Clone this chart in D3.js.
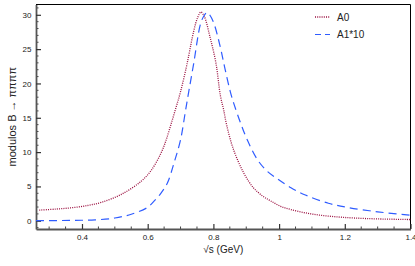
<!DOCTYPE html>
<html>
<head>
<meta charset="utf-8">
<script src="https://cdn.jsdelivr.net/npm/d3@7"></script>
<style>
  body { margin: 0; background: #fff; }
  svg { display: block; font-family: "Liberation Sans", Arial, sans-serif; }
</style>
</head>
<body>
<div id="chart"></div>
<script>
// Chart size and plot frame
const width = 415;
const height = 266;
const margin = { top: 4.5, right: 4.5, bottom: 37, left: 36 };

// Data
const a0X = [0.27, 0.32, 0.37, 0.42, 0.46, 0.52, 0.58, 0.61, 0.64, 0.655, 0.67, 0.685, 0.70, 0.72, 0.74, 0.752, 0.762, 0.772, 0.79, 0.808, 0.821, 0.831, 0.841, 0.861, 0.892, 0.922, 0.95, 0.974, 1.005, 1.035, 1.08, 1.127, 1.18, 1.228, 1.30, 1.40];
const a0Y = [1.55, 1.7, 1.9, 2.25, 2.7, 3.85, 5.75, 7.3, 9.8, 11.6, 13.9, 16.3, 18.8, 22.9, 27.6, 29.6, 30.4, 29.8, 26.7, 22.9, 18.3, 16.2, 13.8, 10.4, 7.0, 4.8, 3.6, 2.9, 2.1, 1.65, 1.15, 0.8, 0.55, 0.4, 0.27, 0.18];
const a1X = [0.26, 0.32, 0.38, 0.44, 0.50, 0.55, 0.598, 0.62, 0.64, 0.66, 0.68, 0.70, 0.715, 0.725, 0.74, 0.761, 0.772, 0.781, 0.79, 0.802, 0.821, 0.835, 0.852, 0.862, 0.883, 0.903, 0.934, 0.964, 0.995, 1.036, 1.08, 1.15, 1.208, 1.30, 1.40];
const a1Y = [0.02, 0.03, 0.06, 0.13, 0.4, 0.95, 1.9, 2.9, 4.0, 5.5, 8.4, 11.8, 16.0, 18.8, 22.9, 28.7, 29.9, 30.35, 29.9, 28.7, 25.3, 22.2, 18.7, 17.1, 14.2, 11.8, 8.9, 7.2, 6.1, 4.8, 3.75, 2.55, 1.95, 1.3, 0.82];
const xTicks = [0.4, 0.6, 0.8, 1, 1.2, 1.4];
const yTicks = [0, 5, 10, 15, 20, 25, 30];
const seriesNames = ["A0", "A1*10"];

const red = "#9b1040";
const blue = "#2f5cff";

const svg = d3.select("#chart").append("svg")
    .attr("width", width)
    .attr("height", height);

const x = d3.scaleLinear()
    .domain([0.26, 1.4])
    .range([margin.left, width - margin.right]);
const y = d3.scaleLinear()
    .domain([-1.2, 31.5])
    .range([height - margin.bottom, margin.top]);

const x0 = margin.left, x1 = width - margin.right;
const y0 = height - margin.bottom, y1 = margin.top;

// Frame: top and right black
svg.append("path")
    .attr("d", `M${x0},${y1}H${x1}V${y0}`)
    .attr("fill", "none")
    .attr("stroke", "#000")
    .attr("stroke-width", 1);

// Minor ticks (inward)
const xMinor = d3.range(0.3, 1.401, 0.05).filter(v => !xTicks.some(t => Math.abs(t - v) < 1e-6));
const yMinor = d3.range(-1, 31.01, 1).filter(v => v % 5 !== 0);

svg.append("g").selectAll("line")
    .data(xMinor)
    .join("line")
    .attr("x1", d => x(d)).attr("x2", d => x(d))
    .attr("y1", y0).attr("y2", y0 - 2.5)
    .attr("stroke", "#444").attr("stroke-width", 1);

svg.append("g").selectAll("line")
    .data(yMinor)
    .join("line")
    .attr("x1", x0).attr("x2", x0 + 2.5)
    .attr("y1", d => y(d)).attr("y2", d => y(d))
    .attr("stroke", "#444").attr("stroke-width", 1);

// Major axes
const xAxis = svg.append("g")
    .attr("transform", `translate(0,${y0})`)
    .call(d3.axisBottom(x).tickValues(xTicks).tickSizeInner(-5).tickSizeOuter(0).tickPadding(5).tickFormat(d3.format("")));
const yAxis = svg.append("g")
    .attr("transform", `translate(${x0},0)`)
    .call(d3.axisLeft(y).tickValues(yTicks).tickSizeInner(-5).tickSizeOuter(0).tickPadding(4.5));

[xAxis, yAxis].forEach(g => {
    g.select(".domain").attr("stroke", "#555").attr("stroke-width", 1.8);
    g.selectAll(".tick line").attr("stroke", "#333").attr("stroke-width", 1.2);
    g.selectAll(".tick text")
        .attr("fill", "#222")
        .style("font-size", "8px")
        .style("font-family", "'Liberation Sans', Arial, sans-serif");
});

// Curves
const line = d3.line()
    .x(d => x(d[0]))
    .y(d => y(d[1]))
    .curve(d3.curveCatmullRom.alpha(0.5));

const a0 = a0X.map((v, i) => [v, a0Y[i]]);
const a1 = a1X.map((v, i) => [v, a1Y[i]]);

svg.append("path")
    .datum(a0)
    .attr("d", line)
    .attr("fill", "none")
    .attr("stroke", red)
    .attr("stroke-width", 1.3)
    .attr("stroke-dasharray", "1,1.2");

svg.append("path")
    .datum(a1)
    .attr("d", line)
    .attr("fill", "none")
    .attr("stroke", blue)
    .attr("stroke-width", 1.2)
    .attr("stroke-dasharray", "8,5");

// Legend
const legend = svg.append("g").attr("class", "legend");
const legendItems = [
    { name: seriesNames[0], color: red, dash: "1,1.2", w: 1.3, yy: 17 },
    { name: seriesNames[1], color: blue, dash: "6,4", w: 1.2, yy: 34.5 }
];
legendItems.forEach(item => {
    legend.append("line")
        .attr("x1", 315).attr("x2", 330)
        .attr("y1", item.yy).attr("y2", item.yy)
        .attr("stroke", item.color)
        .attr("stroke-width", item.w)
        .attr("stroke-dasharray", item.dash);
    legend.append("text")
        .attr("x", 337)
        .attr("y", item.yy + 3.5)
        .attr("fill", "#222")
        .style("font-size", "10px")
        .text(item.name);
});

// Axis titles
svg.append("text")
    .attr("x", (x0 + x1) / 2)
    .attr("y", 253)
    .attr("text-anchor", "middle")
    .attr("fill", "#222")
    .style("font-size", "10px")
    .text("√s (GeV)");

svg.append("text")
    .attr("transform", `translate(16,${(y0 + y1) / 2}) rotate(-90)`)
    .attr("text-anchor", "middle")
    .attr("fill", "#222")
    .style("font-size", "11px")
    .text("modulos B → ππππ");
</script>
</body>
</html>
